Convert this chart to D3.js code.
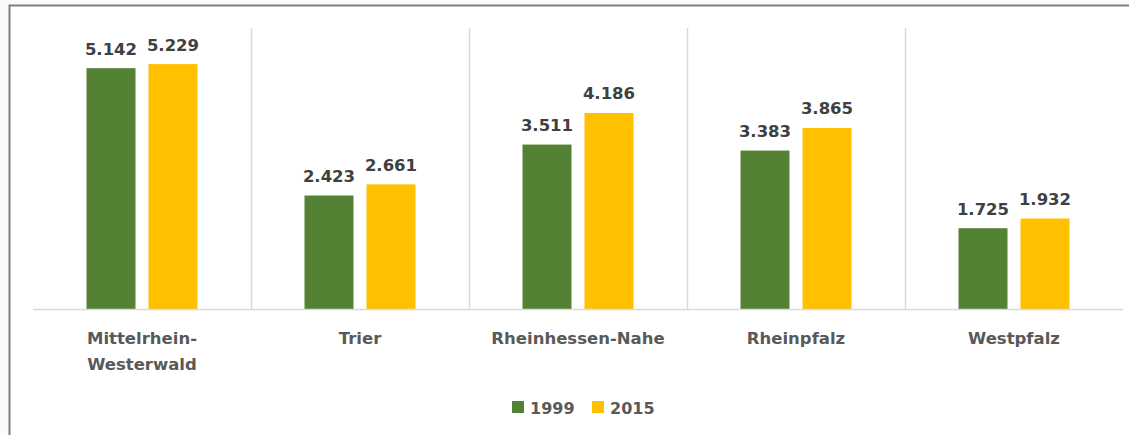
<!DOCTYPE html>
<html>
<head>
<meta charset="utf-8">
<script src="https://cdn.jsdelivr.net/npm/d3@7"></script>
<style>
  body { margin: 0; background: #fafafa; }
  svg { display: block; }
</style>
</head>
<body>
<svg id="chart"></svg>
<script>
var width = 1129;
var height = 435;

// data
var regions = [["Mittelrhein-", "Westerwald"], ["Trier"], ["Rheinhessen-Nahe"], ["Rheinpfalz"], ["Westpfalz"]];
var years = ["1999", "2015"];
var values1999 = [5.142, 2.423, 3.511, 3.383, 1.725];
var values2015 = [5.229, 2.661, 4.186, 3.865, 1.932];
var colors = ["#548235", "#FFC000"];

var plotLeft = 33, plotRight = 1123, plotTop = 28, baseY = 309;

var svg = d3.select("#chart")
    .attr("width", width)
    .attr("height", height);

// chart area with frame
svg.append("rect")
    .attr("x", 9).attr("y", 5)
    .attr("width", width - 9).attr("height", height - 5)
    .attr("fill", "#ffffff");
svg.append("path")
    .attr("d", "M9.5," + height + "V5.5H" + width)
    .attr("fill", "none")
    .attr("stroke", "#7f7f7f")
    .attr("stroke-width", 2);

var names = regions.map(d => d.join(" "));

var xScale = d3.scaleBand()
    .domain(names)
    .range([plotLeft, plotRight]);

var yScale = d3.scaleLinear()
    .domain([0, 6])
    .range([baseY, plotTop]);

// bars 49 wide with 13 gap inside each 218 wide category
var step = 62;
var inner = d3.scaleBand()
    .domain(years)
    .range([0, xScale.bandwidth()])
    .paddingInner(13 / step)
    .paddingOuter((xScale.bandwidth() / step - 2 + 13 / step) / 2);

// category separators
svg.append("g")
  .selectAll("line")
  .data(names.slice(1))
  .enter()
  .append("line")
    .attr("x1", d => xScale(d) + 0.5)
    .attr("x2", d => xScale(d) + 0.5)
    .attr("y1", plotTop)
    .attr("y2", baseY)
    .attr("stroke", "#d9d9d9")
    .attr("stroke-width", 1.5);

var rows = names.map((n, i) => ({ name: n, vals: [values1999[i], values2015[i]] }));

var groups = svg.append("g")
  .selectAll("g")
  .data(rows)
  .enter()
  .append("g")
    .attr("transform", d => "translate(" + xScale(d.name) + ",0)");

groups.selectAll("rect")
  .data(d => d.vals.map((v, j) => ({ year: years[j], v: v, c: colors[j] })))
  .enter()
  .append("rect")
    .attr("x", d => inner(d.year))
    .attr("y", d => yScale(d.v))
    .attr("width", inner.bandwidth())
    .attr("height", d => baseY - yScale(d.v))
    .attr("fill", d => d.c);

groups.selectAll("text")
  .data(d => d.vals.map((v, j) => ({ year: years[j], v: v })))
  .enter()
  .append("text")
    .attr("x", d => inner(d.year) + inner.bandwidth() / 2)
    .attr("y", d => yScale(d.v) - 13.5)
    .attr("text-anchor", "middle")
    .style("font-family", "'DejaVu Sans', Verdana, sans-serif")
    .style("font-weight", "bold")
    .style("font-size", "16.5px")
    .style("fill", "#404040")
    .text(d => d.v.toFixed(3));

// baseline
svg.append("line")
    .attr("x1", plotLeft).attr("x2", plotRight)
    .attr("y1", baseY + 0.5).attr("y2", baseY + 0.5)
    .attr("stroke", "#d9d9d9")
    .attr("stroke-width", 1.5);

// category labels
var catLabels = svg.append("g")
  .selectAll("text")
  .data(regions)
  .enter()
  .append("text")
    .attr("x", (d, i) => xScale(names[i]) + xScale.bandwidth() / 2)
    .attr("y", 344)
    .attr("text-anchor", "middle")
    .style("font-family", "'DejaVu Sans', Verdana, sans-serif")
    .style("font-weight", "bold")
    .style("font-size", "16.5px")
    .style("fill", "#595959");

catLabels.selectAll("tspan")
  .data(d => d)
  .enter()
  .append("tspan")
    .attr("x", function() { return d3.select(this.parentNode).attr("x"); })
    .attr("dy", (d, i) => i === 0 ? 0 : 26)
    .text(d => d);

// legend
var legendX = [512, 592];
var legend = svg.append("g")
  .selectAll("g")
  .data(years)
  .enter()
  .append("g")
    .attr("transform", (d, i) => "translate(" + legendX[i] + ",401)");

legend.append("rect")
    .attr("width", 12).attr("height", 12)
    .attr("fill", (d, i) => colors[i]);

legend.append("text")
    .attr("x", 18)
    .attr("y", 12.5)
    .style("font-family", "'DejaVu Sans', Verdana, sans-serif")
    .style("font-weight", "bold")
    .style("font-size", "16px")
    .style("fill", "#595959")
    .text(d => d);
</script>
</body>
</html>
